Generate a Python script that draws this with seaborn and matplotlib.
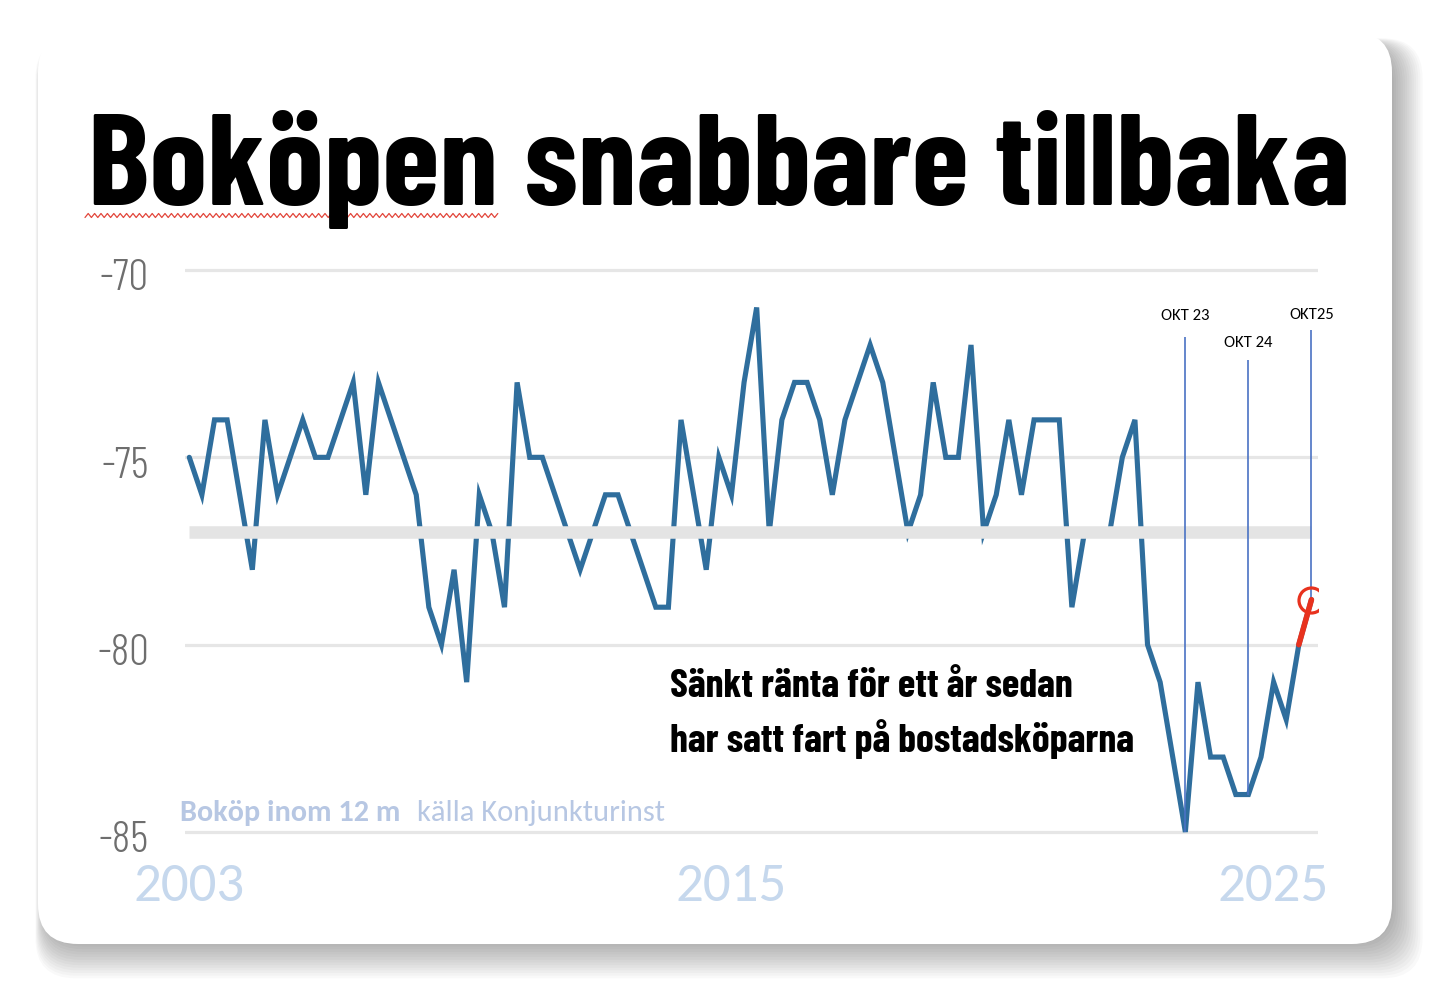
import matplotlib
matplotlib.use("Agg")
import matplotlib.pyplot as plt
import numpy as np
import pandas as pd
import seaborn as sns
from matplotlib.patches import FancyBboxPatch
from matplotlib.transforms import ScaledTranslation

# Boköp inom 12 mån (nettotal), Konjunkturinstitutet
values = [
    -75, -76, -74, -74, -76, -78, -74, -76, -75, -74,
    -75, -75, -74, -73, -76, -73, -74, -75, -76, -79,
    -80, -78, -81, -76, -77, -79, -73, -75, -75, -76,
    -77, -78, -77, -76, -76, -77, -78, -79, -79, -74,
    -76, -78, -75, -76, -73, -71, -77, -74, -73, -73,
    -74, -76, -74, -73, -72, -73, -75, -77, -76, -73,
    -75, -75, -72, -77, -76, -74, -76, -74, -74, -74,
    -79, -77, -77, -77, -75, -74, -80, -81, -83, -85,
    -81, -83, -83, -84, -84, -83, -81, -82, -80, -78.8,
]
avg_level = -77

year_labels = ["2003", "2015", "2025"]
year_pos = [0, 43, 86]

okt_labels = ["OKT 23", "OKT 24", "OKT25"]
okt_pos = [79, 84, 89]

y_ticks = [-85, -80, -75, -70]

title = "Boköpen snabbare tillbaka"
note_lines = ["Sänkt ränta för ett år sedan", "har satt fart på bostadsköparna"]
source_bold = "Boköp inom 12 m"
source_rest = "källa Konjunkturinst"

# styles
BLUE = "#2f6e9d"
RED = "#e8321e"
VLINE = "#4a72c4"
GRID = "#e6e6e6"
BAND = "#e4e4e4"
LIGHTBLUE = "#c6d8ed"
SOURCE = "#b7c7e3"
COND = ["Barlow Condensed", "DejaVu Sans"]
CALI = ["Carlito", "Lato", "DejaVu Sans"]
okt_top = [-71.8, -72.4, -71.6]
okt_text_y = [-71.23, -71.95, -71.2]

sns.set_theme(style="white")
plt.rcParams["font.family"] = CALI

W, H = 1442, 994
fig = plt.figure(figsize=(W / 100, H / 100), dpi=100)
fig.patch.set_facecolor("white")
renderer = fig.canvas.get_renderer()


def fit_width(t, target_px):
    w = t.get_window_extent(renderer).width
    t.set_fontsize(t.get_fontsize() * target_px / w)


# card with soft shadow
bg = fig.add_axes([0, 0, 1, 1], zorder=0)
bg.set_xlim(0, W)
bg.set_ylim(H, 0)
bg.axis("off")
for k in range(14):
    grow = k * 2.2
    bg.add_patch(FancyBboxPatch(
        (44 - grow * 0.3, 44 - grow * 0.2), 1350 + grow * 1.3, 900 + grow * 1.4,
        boxstyle="round,pad=0,rounding_size=40", fc="black", ec="none",
        alpha=0.022))
bg.add_patch(FancyBboxPatch((38, 32), 1354, 912,
                            boxstyle="round,pad=0,rounding_size=40",
                            fc="white", ec="none"))

# main chart
ppu = (832 - 270) / 15.0
top_px, bot_px = 270 - 0.2 * ppu, 832 + 0.2 * ppu
ax = fig.add_axes([185 / W, 1 - bot_px / H, (1318 - 185) / W, (bot_px - top_px) / H],
                  zorder=1)
ax.set_facecolor("none")

df = pd.DataFrame({"idx": np.arange(len(values)), "value": values})
sns.lineplot(data=df, x="idx", y="value", color=BLUE, lw=3.7, ax=ax,
             solid_joinstyle="miter", zorder=3)
# latest move highlighted in red
sns.lineplot(data=df.tail(2), x="idx", y="value", color=RED, lw=4, ax=ax, zorder=6)
ax.plot(df["idx"].iloc[-1], df["value"].iloc[-1], marker="o", ms=18, mfc="none",
        mec=RED, mew=2.3, zorder=7)

ax.hlines(avg_level, df["idx"].iloc[0], df["idx"].iloc[-1], color=BAND, lw=9,
          zorder=4, capstyle="butt")

for pos, lab, top, ty in zip(okt_pos, okt_labels, okt_top, okt_text_y):
    ax.vlines(pos, values[pos], top, color=VLINE, lw=1.2, zorder=5)
    ax.text(pos, ty, lab, ha="center", va="center", fontsize=12,
            family=CALI, color="black")

ax.set_xlim(-0.34, 89.52)
ax.set_ylim(-85.2, -69.8)
ax.set_yticks(y_ticks)
ax.set_yticklabels([str(t) for t in y_ticks], family=COND,
                   fontsize=32, fontweight=300, color="#6e6e6e")
ax.set_xticks(year_pos)
ax.set_xticklabels(year_labels, family=CALI, fontsize=39.5, color=LIGHTBLUE)
ax.tick_params(axis="y", length=0, pad=26)
ax.tick_params(axis="x", length=0, pad=17)
# y labels sit a little below their gridlines in the original
shift = ScaledTranslation(0, -5 / 100, fig.dpi_scale_trans)
for tick in ax.yaxis.get_major_ticks():
    tick.label1.set_transform(tick.label1.get_transform() + shift)
ax.grid(axis="y", color=GRID, lw=2.3, zorder=1)
ax.grid(axis="x", visible=False)
ax.set_xlabel("")
ax.set_ylabel("")
for s in ax.spines.values():
    s.set_visible(False)

# texts
t_title = fig.text(88 / W, 1 - 205 / H, title, fontsize=100, fontweight="bold",
                   family=COND, color="black", ha="left", va="baseline", zorder=5)
fit_width(t_title, 1262)

# spell-check squiggle under the first word, as in the screenshot
first = fig.text(0, 0, title.split()[0], fontsize=t_title.get_fontsize(),
                 fontweight="bold", family=COND)
word_w = first.get_window_extent(renderer).width
first.remove()
sq_x = np.arange(85, 88 + word_w, 3.2)
sq_y = 215.5 + np.where(np.arange(len(sq_x)) % 2 == 0, 2.0, -2.0)
bg.plot(sq_x, sq_y, color="#e2453a", lw=0.9, zorder=6)

n1 = fig.text(670 / W, 1 - 697 / H, note_lines[0], fontsize=30, fontweight="bold",
              family=COND, color="black", ha="left", va="baseline", zorder=5)
n2 = fig.text(670 / W, 1 - 752 / H, note_lines[1], fontsize=30, fontweight="bold",
              family=COND, color="black", ha="left", va="baseline", zorder=5)
fit_width(n2, 465)
n1.set_fontsize(n2.get_fontsize())
s1 = fig.text(180 / W, 1 - 821 / H, source_bold, fontsize=20, fontweight="bold",
              family=CALI, color=SOURCE, ha="left", va="baseline", zorder=5)
s2 = fig.text(417 / W, 1 - 821 / H, source_rest, fontsize=20,
              family=CALI, color=SOURCE, ha="left", va="baseline", zorder=5)
fit_width(s1, 221)
fit_width(s2, 248)

fig.savefig("out.png", dpi=100, facecolor="white")
